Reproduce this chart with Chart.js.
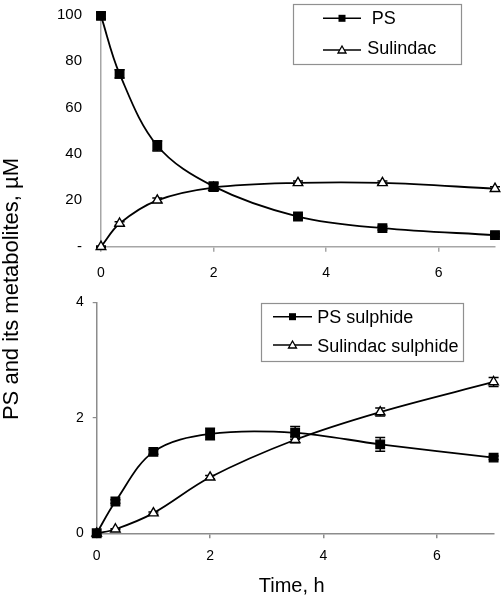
<!DOCTYPE html>
<html><head><meta charset="utf-8">
<script src="https://cdn.jsdelivr.net/npm/chart.js@4"></script>
<style>
html,body{margin:0;padding:0;background:#fff;}
#wrap{position:relative;width:502px;height:598px;overflow:hidden;font-family:"Liberation Sans",Arial,sans-serif;}
canvas{position:absolute;left:0;}
.t{position:absolute;color:#000;white-space:nowrap;text-align:center;}
#ytitle{left:-189.3px;top:277.5px;width:400px;height:22px;line-height:22px;font-size:22px;transform:rotate(-90deg);transform-origin:50% 50%;}
#xtitle{left:191.7px;top:575.3px;width:200px;height:20px;line-height:20px;font-size:20px;}
</style></head><body>
<div id="wrap">
<canvas id="c1" width="502" height="290" style="top:0;width:502px;height:290px"></canvas>
<canvas id="c2" width="502" height="290" style="top:290px;width:502px;height:290px"></canvas>
<div class="t" id="ytitle">PS and its metabolites, µM</div>
<div class="t" id="xtitle">Time, h</div>
</div>
<script>
// ---- data ----
const timeH = [0, 0.33, 1, 2, 3.5, 5, 7];
const ps = [99.5, 74.5, 43.5, 26, 13, 8, 5];
const psErr = [1.4, 1.8, 2.2, 1.8, 0.8, 0.8, 0.6];
const sulindac = [0, 10, 20, 25.5, 27.5, 27.5, 25];
const sulindacErr = [0.3, 0.8, 1, 1.6, 0.8, 0.8, 0.8];
const psSulphide = [0, 0.55, 1.41, 1.72, 1.74, 1.54, 1.31];
const psSulphideErr = [0, 0.03, 0.04, 0.1, 0.11, 0.12, 0.03];
const sulindacSulphide = [0, 0.07, 0.35, 0.97, 1.62, 2.1, 2.62];
const sulindacSulphideErr = [0, 0.01, 0.02, 0.03, 0.05, 0.07, 0.08];
const topLabels = ['PS', 'Sulindac'];
const bottomLabels = ['PS sulphide', 'Sulindac sulphide'];
const xTickValues = [0, 2, 4, 6];
const topYTicks = [0, 20, 40, 60, 80, 100];
const bottomYTicks = [0, 2, 4];

const pts = (ys) => timeH.map((t, i) => ({x: t, y: ys[i]}));
const FONT = '"Liberation Sans", Arial, sans-serif';

const errorBars = {
  id: 'errorBars',
  beforeDatasetsDraw(chart) {
    const ctx = chart.ctx, xs = chart.scales.x, ys = chart.scales.y;
    chart.data.datasets.forEach(ds => {
      if (!ds.errors) return;
      ctx.save();
      ctx.strokeStyle = '#000'; ctx.lineWidth = 1.5;
      ds.data.forEach((p, j) => {
        const e = ds.errors[j]; if (!e) return;
        const x = xs.getPixelForValue(p.x);
        const y1 = ys.getPixelForValue(p.y + e), y2 = ys.getPixelForValue(p.y - e);
        ctx.beginPath();
        ctx.moveTo(x, y1); ctx.lineTo(x, y2);
        ctx.moveTo(x - 5, y1); ctx.lineTo(x + 5, y1);
        ctx.moveTo(x - 5, y2); ctx.lineTo(x + 5, y2);
        ctx.stroke();
      });
      ctx.restore();
    });
  }
};

const boxLegend = {
  id: 'boxLegend',
  afterDraw(chart, args, o) {
    const ctx = chart.ctx;
    ctx.save();
    ctx.fillStyle = '#fff';
    ctx.fillRect(o.x, o.y, o.w, o.h);
    ctx.strokeStyle = '#909090'; ctx.lineWidth = 1.2;
    ctx.strokeRect(o.x + 0.5, o.y + 0.5, o.w, o.h);
    chart.data.datasets.forEach((ds, i) => {
      const cy = o.rowY[i];
      ctx.strokeStyle = '#000'; ctx.lineWidth = 1.5;
      ctx.beginPath(); ctx.moveTo(o.x0, cy); ctx.lineTo(o.x1, cy); ctx.stroke();
      const mx = (o.x0 + o.x1) / 2;
      if (ds.pointStyle === 'rect') {
        ctx.fillStyle = '#000'; ctx.fillRect(mx - 3.5, cy - 3.5, 7, 7);
      } else {
        ctx.fillStyle = '#fff'; ctx.lineWidth = 1.3;
        ctx.beginPath(); ctx.moveTo(mx, cy - 4); ctx.lineTo(mx + 4, cy + 3); ctx.lineTo(mx - 4, cy + 3); ctx.closePath();
        ctx.fill(); ctx.stroke();
      }
      ctx.fillStyle = '#000';
      ctx.font = '18px ' + FONT;
      ctx.textBaseline = 'alphabetic'; ctx.textAlign = 'left';
      ctx.fillText(ds.label, o.textX[i], o.baseY[i]);
    });
    ctx.restore();
  }
};

function makeDs(label, vals, errs, square) {
  return {
    label, data: pts(vals), errors: errs,
    borderColor: '#000', borderWidth: 1.8, tension: 0.35, clip: false,
    pointStyle: square ? 'rect' : 'triangle',
    pointRadius: square ? 6 : 5.5,
    pointBackgroundColor: square ? '#000' : '#fff',
    pointBorderColor: '#000', pointBorderWidth: 1.4,
    fill: false
  };
}

function makeOpts(cfg) {
  return {
    responsive: false, animation: false, events: [],
    layout: {padding: cfg.padding, autoPadding: false},
    plugins: {legend: {display: false}, tooltip: {enabled: false}, boxLegend: cfg.legend},
    scales: {
      x: {
        type: 'linear', min: 0, max: 7,
        afterFit: s => { s.height = cfg.xh; s.paddingLeft = 0; s.paddingRight = 0; },
        afterBuildTicks: s => { s.ticks = xTickValues.map(v => ({value: v})); },
        border: {color: cfg.axisColor, width: 1.5},
        grid: {drawOnChartArea: false, color: cfg.axisColor, tickLength: 5, lineWidth: 1.5},
        ticks: {font: {family: FONT, size: 14}, color: '#000', padding: cfg.xpad, maxRotation: 0}
      },
      y: {
        type: 'linear', min: cfg.ymin, max: cfg.ymax,
        afterFit: s => { s.width = cfg.yw; s.paddingTop = 0; s.paddingBottom = 0; },
        afterBuildTicks: s => { s.ticks = cfg.yticks.map(v => ({value: v})); },
        border: {color: cfg.axisColor, width: 1.5},
        grid: {drawOnChartArea: false, color: cfg.axisColor, tickLength: cfg.ytl, drawTicks: cfg.ytl > 0, lineWidth: 1.2},
        ticks: {font: {family: FONT, size: cfg.yfs}, color: '#000', padding: cfg.ypad, callback: cfg.ycb}
      }
    }
  };
}

// nudge layout padding so the plot area lands on the target box
function placeArea(chart, top, bottom) {
  for (let k = 0; k < 4; k++) {
    const a = chart.chartArea, p = chart.options.layout.padding;
    const dt = top - a.top, db = a.bottom - bottom;
    if (Math.abs(dt) < 0.05 && Math.abs(db) < 0.05) break;
    p.top += dt; p.bottom += db;
    chart.update();
  }
}

const c1 = new Chart(document.getElementById('c1'), {
  type: 'line',
  data: {datasets: [makeDs(topLabels[0], ps, psErr, true), makeDs(topLabels[1], sulindac, sulindacErr, false)]},
  options: makeOpts({
    padding: {top: 14.7, left: 0, right: 7, bottom: 0}, xh: 43.3, yw: 101,
    axisColor: '#a6a6a6', xpad: 13, ymin: 0, ymax: 100, yticks: topYTicks, ytl: 0, ypad: 19, yfs: 15,
    ycb: v => v === 0 ? '-' : String(v),
    legend: {x: 293, y: 4, w: 168, h: 60, rowY: [18.3, 50], x0: 323, x1: 361, textX: [371.7, 367.3], baseY: [24.3, 54]}
  }),
  plugins: [errorBars, boxLegend]
});
placeArea(c1, 14.7, 246.7);

const c2 = new Chart(document.getElementById('c2'), {
  type: 'line',
  data: {datasets: [makeDs(bottomLabels[0], psSulphide, psSulphideErr, true), makeDs(bottomLabels[1], sulindacSulphide, sulindacSulphideErr, false)]},
  options: makeOpts({
    padding: {top: 12.3, left: 0, right: 8.4, bottom: 0}, xh: 46.7, yw: 96.7,
    axisColor: '#8c8c8c', xpad: 9, ymin: 0, ymax: 4, yticks: bottomYTicks, ytl: 4, ypad: 9, yfs: 14,
    ycb: v => String(v),
    legend: {x: 261, y: 13, w: 202, h: 58, rowY: [26.7, 55], x0: 273, x1: 312, textX: [317.3, 317.3], baseY: [33.3, 61.7]}
  }),
  plugins: [errorBars, boxLegend]
});
placeArea(c2, 12.3, 243.3);
</script>
</body></html>
